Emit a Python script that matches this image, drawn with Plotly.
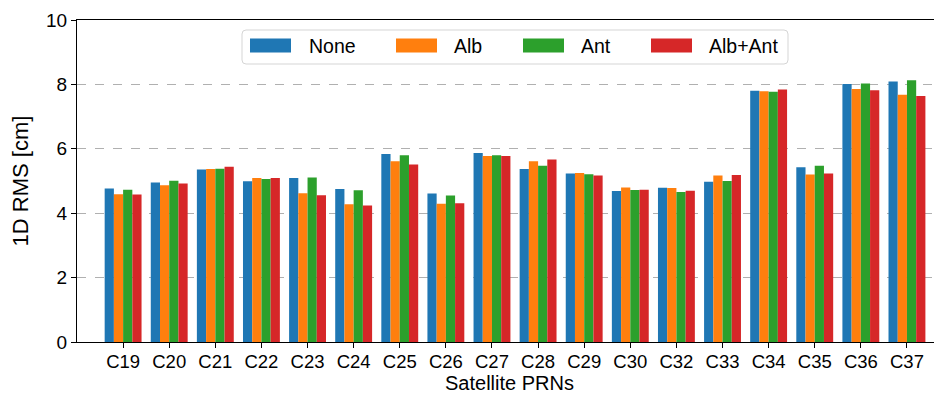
import plotly.graph_objects as go

categories = ["C19", "C20", "C21", "C22", "C23", "C24", "C25", "C26", "C27",
              "C28", "C29", "C30", "C32", "C33", "C34", "C35", "C36", "C37"]
series_names = ["None", "Alb", "Ant", "Alb+Ant"]
none_vals = [4.77, 4.95, 5.36, 4.99, 5.09, 4.75, 5.84, 4.61, 5.87,
             5.37, 5.23, 4.69, 4.79, 4.98, 7.80, 5.43, 8.01, 8.09]
alb_vals = [4.59, 4.87, 5.37, 5.09, 4.62, 4.28, 5.61, 4.29, 5.78,
            5.61, 5.25, 4.80, 4.78, 5.17, 7.79, 5.20, 7.86, 7.68]
ant_vals = [4.73, 5.01, 5.38, 5.06, 5.11, 4.71, 5.80, 4.55, 5.80,
            5.47, 5.21, 4.72, 4.66, 5.00, 7.77, 5.47, 8.03, 8.13]
albant_vals = [4.58, 4.92, 5.44, 5.09, 4.56, 4.24, 5.51, 4.31, 5.78,
               5.67, 5.17, 4.73, 4.70, 5.19, 7.84, 5.23, 7.82, 7.64]
colors = ["#1f77b4", "#ff7f0e", "#2ca02c", "#d62728"]
y_ticks = [0, 2, 4, 6, 8, 10]

FONT = "Arial, 'Liberation Sans', Helvetica, sans-serif"
# the page body has an 8px margin; the figure is sized/offset to compensate
OFF = 8
W, H = 942 - OFF, 394 - OFF
ML, MR, MT, MB = 77 - OFF, 0, 20 - OFF, 52
PW, PH = W - ML - MR, H - MT - MB
PAGE_L, PAGE_B = 77, 342

fig = go.Figure()
for name, vals, col in zip(series_names, [none_vals, alb_vals, ant_vals, albant_vals], colors):
    fig.add_trace(go.Bar(x=categories, y=vals, name=name, marker_color=col,
                         marker_line_width=0, showlegend=False))


def px(x):
    return (x - PAGE_L) / PW


def py(y):
    return (PAGE_B - y) / PH


shapes = []
annotations = []
# legend frame (rounded)
x0, x1, y0, y1, r = px(242), px(788), py(64), py(30), 4
rx, ry = r / PW, r / PH
path = (f"M {x0+rx},{y0} L {x1-rx},{y0} Q {x1},{y0} {x1},{y0+ry} "
        f"L {x1},{y1-ry} Q {x1},{y1} {x1-rx},{y1} L {x0+rx},{y1} "
        f"Q {x0},{y1} {x0},{y1-ry} L {x0},{y0+ry} Q {x0},{y0} {x0+rx},{y0} Z")
shapes.append(dict(type="path", xref="paper", yref="paper", path=path,
                   fillcolor="rgba(255,255,255,0.8)",
                   line=dict(color="#d5d5d5", width=1)))
patch_x = [250, 396, 523, 651]
text_x = [307, 452, 579, 707]
for name, col, pxl, txl in zip(series_names, colors, patch_x, text_x):
    shapes.append(dict(type="rect", xref="paper", yref="paper",
                       x0=px(pxl), x1=px(pxl + 41), y0=py(52.5), y1=py(38.5),
                       fillcolor=col, line=dict(width=0)))
    annotations.append(dict(xref="paper", yref="paper", x=px(txl), y=py(46),
                            text=name, showarrow=False, xanchor="left", yanchor="middle",
                            font=dict(family=FONT, size=19.5, color="#000000")))

fig.update_layout(
    width=W, height=H,
    margin=dict(l=ML, r=MR, t=MT, b=MB, autoexpand=False),
    paper_bgcolor="white", plot_bgcolor="white",
    barmode="group", bargap=0.2, bargroupgap=0.0,
    font=dict(family=FONT, size=19, color="#000000"),
    shapes=shapes, annotations=annotations,
    showlegend=False,
)
fig.update_xaxes(
    range=[-1.0, 17.76], automargin=False,
    showline=True, linecolor="#000000", linewidth=1, mirror=True,
    ticks="outside", ticklen=5, tickcolor="#000000", tickwidth=1,
    ticklabelstandoff=-2,
    showgrid=False,
    tickfont=dict(family=FONT, size=18.5),
    title=dict(text="Satellite PRNs", font=dict(family=FONT, size=20), standoff=1),
)
fig.update_yaxes(
    range=[0, 10], tickvals=y_ticks, automargin=False,
    showline=True, linecolor="#000000", linewidth=1, mirror=False,
    ticks="outside", ticklen=5, tickcolor="#000000", tickwidth=1,
    showgrid=True, gridcolor="#b0b0b0", gridwidth=1, griddash="dash",
    zeroline=False,
    tickfont=dict(family=FONT, size=19),
    title=dict(text="1D RMS [cm]", font=dict(family=FONT, size=22), standoff=12),
)

fig.write_html("out.html")
